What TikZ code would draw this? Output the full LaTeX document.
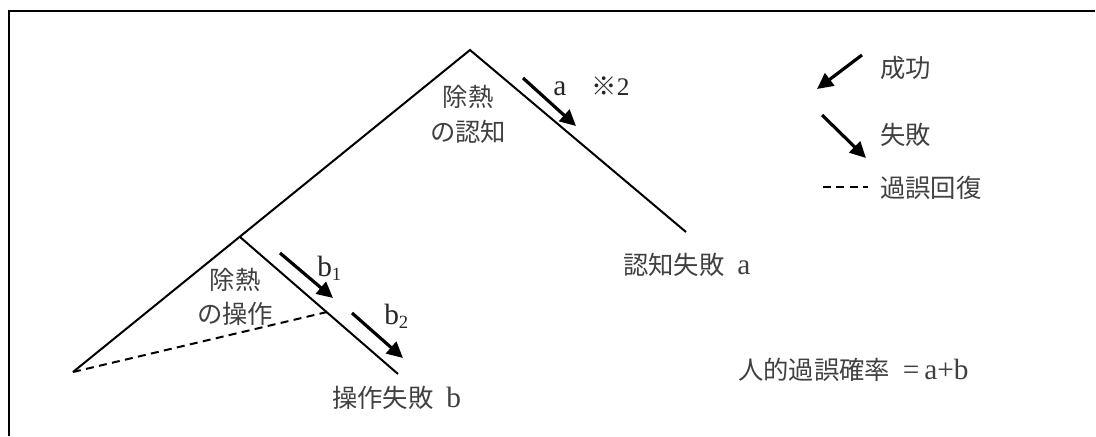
\documentclass[tikz,border=0pt]{standalone}
\usepackage{fontspec}
\setmainfont{Liberation Serif}
\newfontfamily\jp{Noto Sans CJK JP}
\usetikzlibrary{arrows.meta}
\newcommand{\latn}[1]{{\fontsize{22}{26}\selectfont #1}}
\newcommand{\subidx}[1]{\raisebox{-3pt}{\fontsize{14}{14}\selectfont #1}}
\begin{document}
\begin{tikzpicture}[x=0.75pt,y=-0.75pt,
    branch/.style={line width=1.5pt},
    recovery/.style={line width=1.5pt, dash pattern=on 6pt off 4pt},
    prob/.style={line width=2.4pt, -{Triangle[length=12pt,width=11.5pt]}},
    txt/.style={font=\fontsize{19}{26}\selectfont, text=black!75, inner sep=0pt, align=center}]
    \useasboundingbox (0,0) rectangle (1096,436);
    \draw[line width=2.2pt] (9,436) -- (9,11) -- (1095,11);
    \coordinate (start) at (73,372);
    \coordinate (apex) at (470,50);
    \coordinate (branch) at (240,237);
    \coordinate (cogend) at (686,232);
    \coordinate (opend) at (398,374);
    \coordinate (recov) at (327,312);
    \draw[branch] (start) -- (apex) -- (cogend);
    \draw[branch] (branch) -- (opend);
    \draw[recovery] (start) -- (recov);
    \coordinate (a1) at (523,78);
    \coordinate (a2) at (576,126);
    \coordinate (b1s) at (280,253);
    \coordinate (b1e) at (333,298);
    \coordinate (b2s) at (352,313);
    \coordinate (b2e) at (403,358);
    \draw[prob] (a1) -- (a2);
    \draw[prob] (b1s) -- (b1e);
    \draw[prob] (b2s) -- (b2e);
    \node[txt] (cog) at (468,114) {\jp 除熱\\\jp の認知};
    \node[txt] (op) at (235,297) {\jp 除熱\\\jp の操作};
    \node[txt, anchor=west, text=black!85] (alab) at (553,86) {\latn{a}\quad{\jp ※}2};
    \node[txt, anchor=west, text=black!85] (b1lab) at (317,268) {\latn{b}\subidx{1}};
    \node[txt, anchor=west, text=black!85] (b2lab) at (384,316) {\latn{b}\subidx{2}};
    \node[txt, anchor=west] (cogfail) at (623,265) {{\jp 認知失敗}\ \ \latn{a}};
    \node[txt, anchor=west] (opfail) at (332,398) {{\jp 操作失敗}\ \ \latn{b}};
    \node[txt, anchor=west] (total) at (738,370) {{\jp 人的過誤確率}\ \ \latn{=\,a+b}};
    % legend
    \coordinate (s1) at (862,55);
    \coordinate (s2) at (817,89);
    \coordinate (f1) at (822,115);
    \coordinate (f2) at (866,158);
    \coordinate (r1) at (823,187);
    \coordinate (r2) at (868,187);
    \draw[prob] (s1) -- (s2);
    \draw[prob] (f1) -- (f2);
    \draw[recovery] (r1) -- (r2);
    \node[txt, anchor=west] (success) at (880,68) {\jp 成功};
    \node[txt, anchor=west] (failure) at (880,135) {\jp 失敗};
    \node[txt, anchor=west] (recovlab) at (880,188) {\jp 過誤回復};
\end{tikzpicture}
\end{document}
